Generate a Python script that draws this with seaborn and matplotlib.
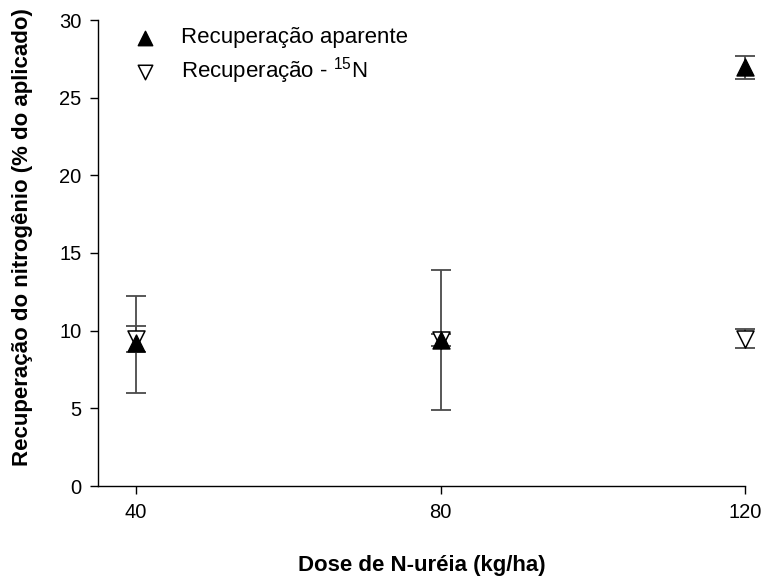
import matplotlib
matplotlib.use("Agg")
import matplotlib.pyplot as plt
import seaborn as sns
import pandas as pd

# Nitrogen recovery by urea-N rate
doses = [40, 80, 120]
aparente = [9.2, 9.4, 27.0]
aparente_lo = [6.0, 4.9, 26.2]
aparente_hi = [12.2, 13.9, 27.7]
n15 = [9.45, 9.4, 9.45]
n15_lo = [8.6, 9.0, 8.9]
n15_hi = [10.3, 9.8, 10.1]
xticks = [40, 80, 120]
yticks = [0, 5, 10, 15, 20, 25, 30]

sns.set_theme(style="ticks")
plt.rcParams["font.family"] = ["Liberation Sans", "DejaVu Sans"]
plt.rcParams["mathtext.fontset"] = "custom"
plt.rcParams["mathtext.rm"] = "Liberation Sans"
plt.rcParams["mathtext.it"] = "Liberation Sans"
plt.rcParams["text.color"] = "black"
plt.rcParams["axes.labelcolor"] = "black"

df_ap = pd.DataFrame({"dose": doses, "rec": aparente, "lo": aparente_lo, "hi": aparente_hi})
df_n = pd.DataFrame({"dose": doses, "rec": n15, "lo": n15_lo, "hi": n15_hi})

fig = plt.figure(figsize=(7.64, 5.76), dpi=100)
ax = fig.add_axes([98 / 764, 1 - 486 / 576, (745 - 98) / 764, (486 - 20) / 576])

err_kw = dict(fmt="none", ecolor="#4a4a4a", elinewidth=1.3, capsize=7, capthick=1.3,
              zorder=1, clip_on=False)
for d in (df_n, df_ap):
    ax.errorbar(d["dose"], d["rec"],
                yerr=[d["rec"] - d["lo"], d["hi"] - d["rec"]], **err_kw)

sns.scatterplot(data=df_n, x="dose", y="rec", marker="v", s=150, color="white",
                edgecolor="black", linewidth=1.1, ax=ax, zorder=3, clip_on=False,
                label="Recuperação - $^{15}$N")
sns.scatterplot(data=df_ap, x="dose", y="rec", marker="^", s=150, color="black",
                edgecolor="black", linewidth=1.0, ax=ax, zorder=4, clip_on=False,
                label="Recuperação aparente")

ax.set_xlim(35, 120)
ax.set_ylim(0, 30)
ax.set_xticks(xticks)
ax.set_yticks(yticks)
ax.tick_params(axis="both", direction="out", length=6, width=1, colors="black",
               labelcolor="black", labelsize=14.5, pad=6)
for side in ("top", "right"):
    ax.spines[side].set_visible(False)
for side in ("left", "bottom"):
    ax.spines[side].set_color("black")
    ax.spines[side].set_linewidth(1.0)

ax.set_xlabel("Dose de N-uréia (kg/ha)", fontsize=16, fontweight="bold",
              labelpad=24, color="black")
ax.set_ylabel("Recuperação do nitrogênio (% do aplicado)", fontsize=16,
              fontweight="bold", labelpad=19, color="black")
ax.yaxis.label.set_y(0.534)

handles, labels = ax.get_legend_handles_labels()
leg = ax.legend(handles[::-1], labels[::-1], loc="upper left", frameon=False,
                fontsize=16, bbox_to_anchor=(0.0556, 0.984), borderaxespad=0,
                borderpad=0, handlelength=1.0, handletextpad=1.1, labelspacing=0.32,
                markerscale=0.85)
for t in leg.get_texts():
    t.set_color("black")

fig.savefig("out.png", dpi=100)
